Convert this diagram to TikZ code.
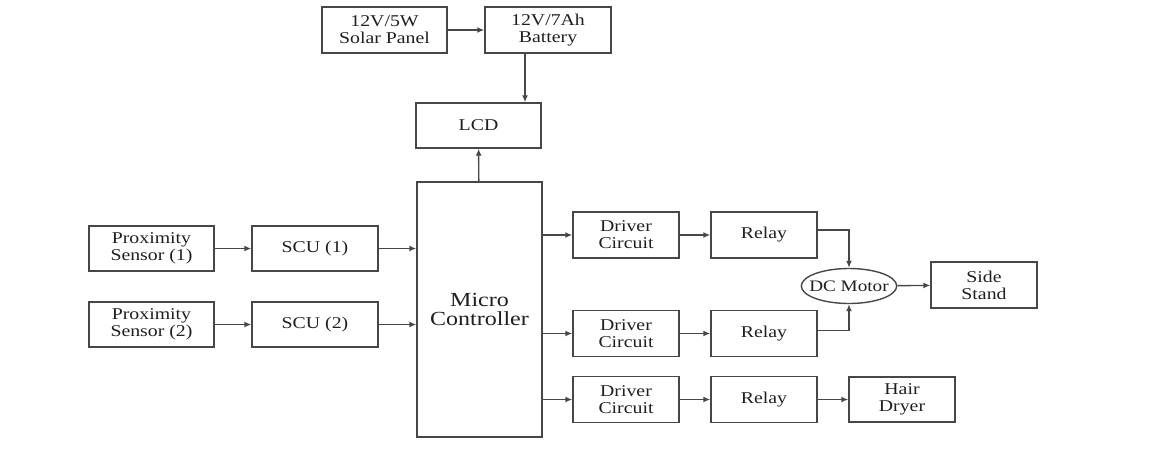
\documentclass[tikz,border=0pt]{standalone}
\usepackage{fontspec}
\setmainfont[FakeStretch=1.2]{Liberation Serif}
\usetikzlibrary{arrows.meta,shapes.geometric}
\begin{document}
\begin{tikzpicture}[x=1pt,y=-1pt,
  box/.style={draw=black!72,line width=1.4pt,inner sep=0pt,align=center,text=black!88,
    font=\fontsize{16.5}{17}\selectfont},
  arr/.style={draw=black!72,line width=1.4pt,-{Latex[length=7pt,width=6pt]}}]
\useasboundingbox (0,0) rectangle (1165,464);
\node[box,minimum width=125,minimum height=46] (solar) at (384.5,30) {12V/5W\\Solar Panel};
\node[box,minimum width=126,minimum height=46] (bat) at (548,30) {12V/7Ah\\Battery};
\node[box,minimum width=125,minimum height=45] (lcd) at (478.5,125.5) {LCD};
\node[box,minimum width=125,minimum height=255,font=\fontsize{20}{19}\selectfont] (mc) at (479.5,309.5) {Micro\\Controller};
\node[box,minimum width=125,minimum height=45] (p1) at (151.5,248.5) {Proximity\\Sensor (1)};
\node[box,minimum width=125,minimum height=45] (p2) at (151.5,324.5) {Proximity\\Sensor (2)};
\node[box,minimum width=126,minimum height=45] (s1) at (315,248.5) {SCU (1)};
\node[box,minimum width=126,minimum height=45] (s2) at (315,324.5) {SCU (2)};
\node[box,minimum width=106,minimum height=46] (d1) at (626,235) {Driver\\Circuit};
\node[box,minimum width=106,minimum height=46] (d2) at (626,333.5) {Driver\\Circuit};
\node[box,minimum width=106,minimum height=46] (d3) at (626,399.5) {Driver\\Circuit};
\node[box,minimum width=106,minimum height=46] (r1) at (764,235) {Relay};
\node[box,minimum width=106,minimum height=46] (r2) at (764,333.5) {Relay};
\node[box,minimum width=106,minimum height=46] (r3) at (764,399.5) {Relay};
\node[box,ellipse,inner xsep=-6pt,inner ysep=0pt,minimum height=35,font=\fontsize{16}{17}\selectfont] (dc) at (849,286) {DC Motor};
\node[box,minimum width=106,minimum height=46] (ss) at (984,285) {Side\\Stand};
\node[box,minimum width=106,minimum height=45] (hd) at (902,399.5) {Hair\\Dryer};
\draw[arr] (solar) -- (bat);
\draw[arr] ([xshift=-23pt]bat.south) -- ([xshift=-23pt]bat.south |- lcd.north);
\draw[arr] (mc) -- (lcd);
\draw[arr] (p1) -- (s1);
\draw[arr] (p2) -- (s2);
\draw[arr] (s1.east) -- (s1.east -| mc.west);
\draw[arr] (s2.east) -- (s2.east -| mc.west);
\draw[arr] (mc.east |- d1.west) -- (d1.west);
\draw[arr] (mc.east |- d2.west) -- (d2.west);
\draw[arr] (mc.east |- d3.west) -- (d3.west);
\draw[arr] (d1) -- (r1);
\draw[arr] (d2) -- (r2);
\draw[arr] (d3) -- (r3);
\draw[arr] ([yshift=5pt]r1.east) -| (dc.north);
\draw[arr] ([yshift=3pt]r2.east) -| (dc.south);
\draw[arr] (dc) -- (ss);
\draw[arr] (r3) -- (hd);
\end{tikzpicture}
\end{document}
